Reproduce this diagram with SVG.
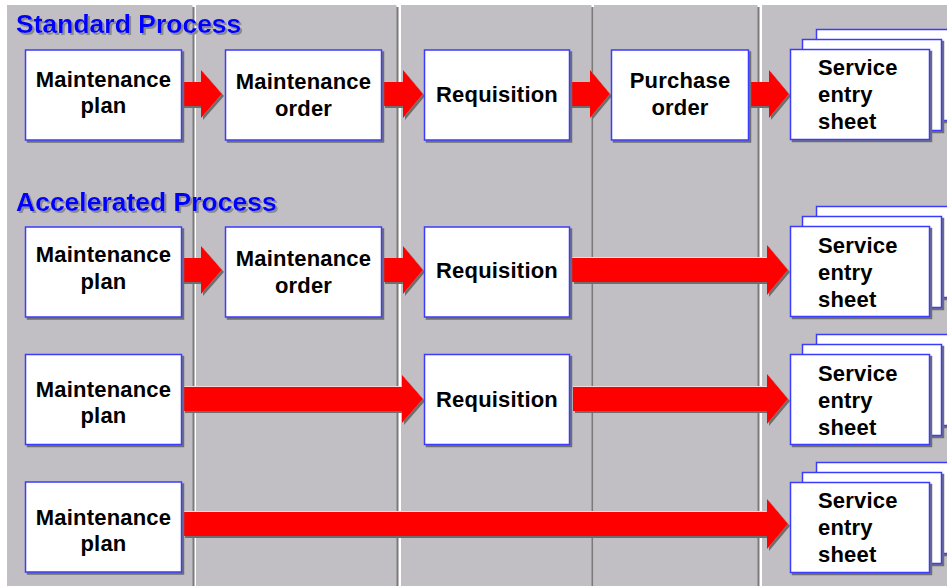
<svg xmlns="http://www.w3.org/2000/svg" width="947" height="586" viewBox="0 0 947 586">
<defs>
<filter id="sh" x="-10%" y="-10%" width="130%" height="130%">
<feDropShadow dx="2" dy="2" stdDeviation="0.4" flood-color="#6e6e6e" flood-opacity="1"/>
</filter>
<filter id="tsh" x="-5%" y="-20%" width="115%" height="150%">
<feDropShadow dx="2" dy="2" stdDeviation="0.6" flood-color="#8a8a8a" flood-opacity="1"/>
</filter>
</defs>
<style>
.panel{fill:#c1bfc3}
.pshadow{fill:#7a7a7a}
.box{fill:#ffffff;stroke:#3a3aff;stroke-width:1.5;filter:url(#sh)}
.arrow{fill:#ff0000;filter:url(#sh)}
.hl{fill:none;stroke:#f6d6d6;stroke-width:1}
.t{font-family:"Liberation Sans",Arial,sans-serif;font-weight:bold;font-size:22px;fill:#000;letter-spacing:0.2px}
.c{text-anchor:middle}
.title{font-family:"Liberation Sans",Arial,sans-serif;font-weight:bold;font-size:26.5px;fill:#0000ff;filter:url(#tsh)}
</style>
<rect x="0" y="0" width="947" height="586" fill="#ffffff"/>
<g id="panels">
<rect class="pshadow" x="9" y="7" width="185.5" height="590"/>
<rect class="panel" x="7" y="5" width="185.5" height="590"/>
<rect class="pshadow" x="198" y="7" width="200.5" height="590"/>
<rect class="panel" x="196" y="5" width="200.5" height="590"/>
<rect class="pshadow" x="403" y="7" width="190.5" height="590"/>
<rect class="panel" x="401" y="5" width="190.5" height="590"/>
<rect class="pshadow" x="596" y="7" width="163.5" height="590"/>
<rect class="panel" x="594" y="5" width="163.5" height="590"/>
<rect class="pshadow" x="764" y="7" width="200" height="590"/>
<rect class="panel" x="762" y="5" width="200" height="590"/>
</g>
<g id="titles">
<text class="title" x="16" y="33">Standard Process</text>
<text class="title" x="16" y="211">Accelerated Process</text>
</g>
<g id="connectors">
<polygon class="arrow" points="182,82 201,82 201,70 222,94 201,118 201,106 182,106"/>
<polygon class="arrow" points="383,82 403,82 403,70 423,94 403,118 403,106 383,106"/>
<polygon class="arrow" points="570,82 590,82 590,70 610,94 590,118 590,106 570,106"/>
<polygon class="arrow" points="749,82 769,82 769,70 789,94 769,118 769,106 749,106"/>
<polygon class="arrow" points="182,258 201,258 201,246 222,270 201,294 201,282 182,282"/>
<polygon class="arrow" points="383,258 403,258 403,246 423,270 403,294 403,282 383,282"/>
<polygon class="arrow" points="572,258 767,258 767,245 788,270 767,295 767,282 572,282"/>
<polygon class="arrow" points="183,387 402,387 402,375 423,399 402,423 402,411 183,411"/>
<polygon class="arrow" points="573,387 767,387 767,374 788,399 767,424 767,411 573,411"/>
<polygon class="arrow" points="183,512 767,512 767,499 788,524 767,549 767,536 183,536"/>
<polyline class="hl" points="572,257.5 766.5,257.5"/>
<polyline class="hl" points="183,386.5 401.5,386.5"/>
<polyline class="hl" points="573,386.5 766.5,386.5"/>
<polyline class="hl" points="183,511.5 766.5,511.5"/>
</g>
<g id="r1-plan">
<rect class="box" x="25.5" y="50" width="156" height="90"/>
<text class="t c" x="103.5" y="87">Maintenance</text>
<text class="t c" x="103.5" y="113">plan</text>
</g>
<g id="r1-order">
<rect class="box" x="225.5" y="50" width="156" height="90"/>
<text class="t c" x="303.5" y="89">Maintenance</text>
<text class="t c" x="303.5" y="116">order</text>
</g>
<g id="r1-req">
<rect class="box" x="424.5" y="50" width="145" height="90"/>
<text class="t c" x="497" y="102">Requisition</text>
</g>
<g id="r1-po">
<rect class="box" x="611.5" y="50" width="137" height="90"/>
<text class="t c" x="680" y="88">Purchase</text>
<text class="t c" x="680" y="115">order</text>
</g>
<g id="r1-ses">
<rect class="box" x="816.5" y="29.5" width="160" height="91"/>
<rect class="box" x="802.5" y="39.5" width="139" height="91"/>
<rect class="box" x="790.5" y="49.5" width="139" height="90"/>
<text class="t" x="818" y="75">Service</text>
<text class="t" x="818" y="102">entry</text>
<text class="t" x="818" y="129">sheet</text>
</g>
<g id="r2-plan">
<rect class="box" x="25.5" y="227" width="156" height="90"/>
<text class="t c" x="103.5" y="262">Maintenance</text>
<text class="t c" x="103.5" y="289">plan</text>
</g>
<g id="r2-order">
<rect class="box" x="225.5" y="227" width="156" height="90"/>
<text class="t c" x="303.5" y="266">Maintenance</text>
<text class="t c" x="303.5" y="293">order</text>
</g>
<g id="r2-req">
<rect class="box" x="424.5" y="227" width="145" height="90"/>
<text class="t c" x="497" y="278">Requisition</text>
</g>
<g id="r2-ses">
<rect class="box" x="816.5" y="206.5" width="160" height="91"/>
<rect class="box" x="802.5" y="216.5" width="139" height="91"/>
<rect class="box" x="790.5" y="226.5" width="139" height="90"/>
<text class="t" x="818" y="253">Service</text>
<text class="t" x="818" y="280">entry</text>
<text class="t" x="818" y="307">sheet</text>
</g>
<g id="r3-plan">
<rect class="box" x="25.5" y="354.5" width="156" height="90"/>
<text class="t c" x="103.5" y="397">Maintenance</text>
<text class="t c" x="103.5" y="423">plan</text>
</g>
<g id="r3-req">
<rect class="box" x="424.5" y="354.5" width="145" height="90"/>
<text class="t c" x="497" y="407">Requisition</text>
</g>
<g id="r3-ses">
<rect class="box" x="816.5" y="334.5" width="160" height="91"/>
<rect class="box" x="802.5" y="344.5" width="139" height="91"/>
<rect class="box" x="790.5" y="354.5" width="139" height="90"/>
<text class="t" x="818" y="381">Service</text>
<text class="t" x="818" y="408">entry</text>
<text class="t" x="818" y="435">sheet</text>
</g>
<g id="r4-plan">
<rect class="box" x="25.5" y="482" width="156" height="90"/>
<text class="t c" x="103.5" y="525">Maintenance</text>
<text class="t c" x="103.5" y="551">plan</text>
</g>
<g id="r4-ses">
<rect class="box" x="816.5" y="462.5" width="160" height="91"/>
<rect class="box" x="802.5" y="472.5" width="139" height="91"/>
<rect class="box" x="790.5" y="482.5" width="139" height="90"/>
<text class="t" x="818" y="508">Service</text>
<text class="t" x="818" y="535">entry</text>
<text class="t" x="818" y="562">sheet</text>
</g>
</svg>
